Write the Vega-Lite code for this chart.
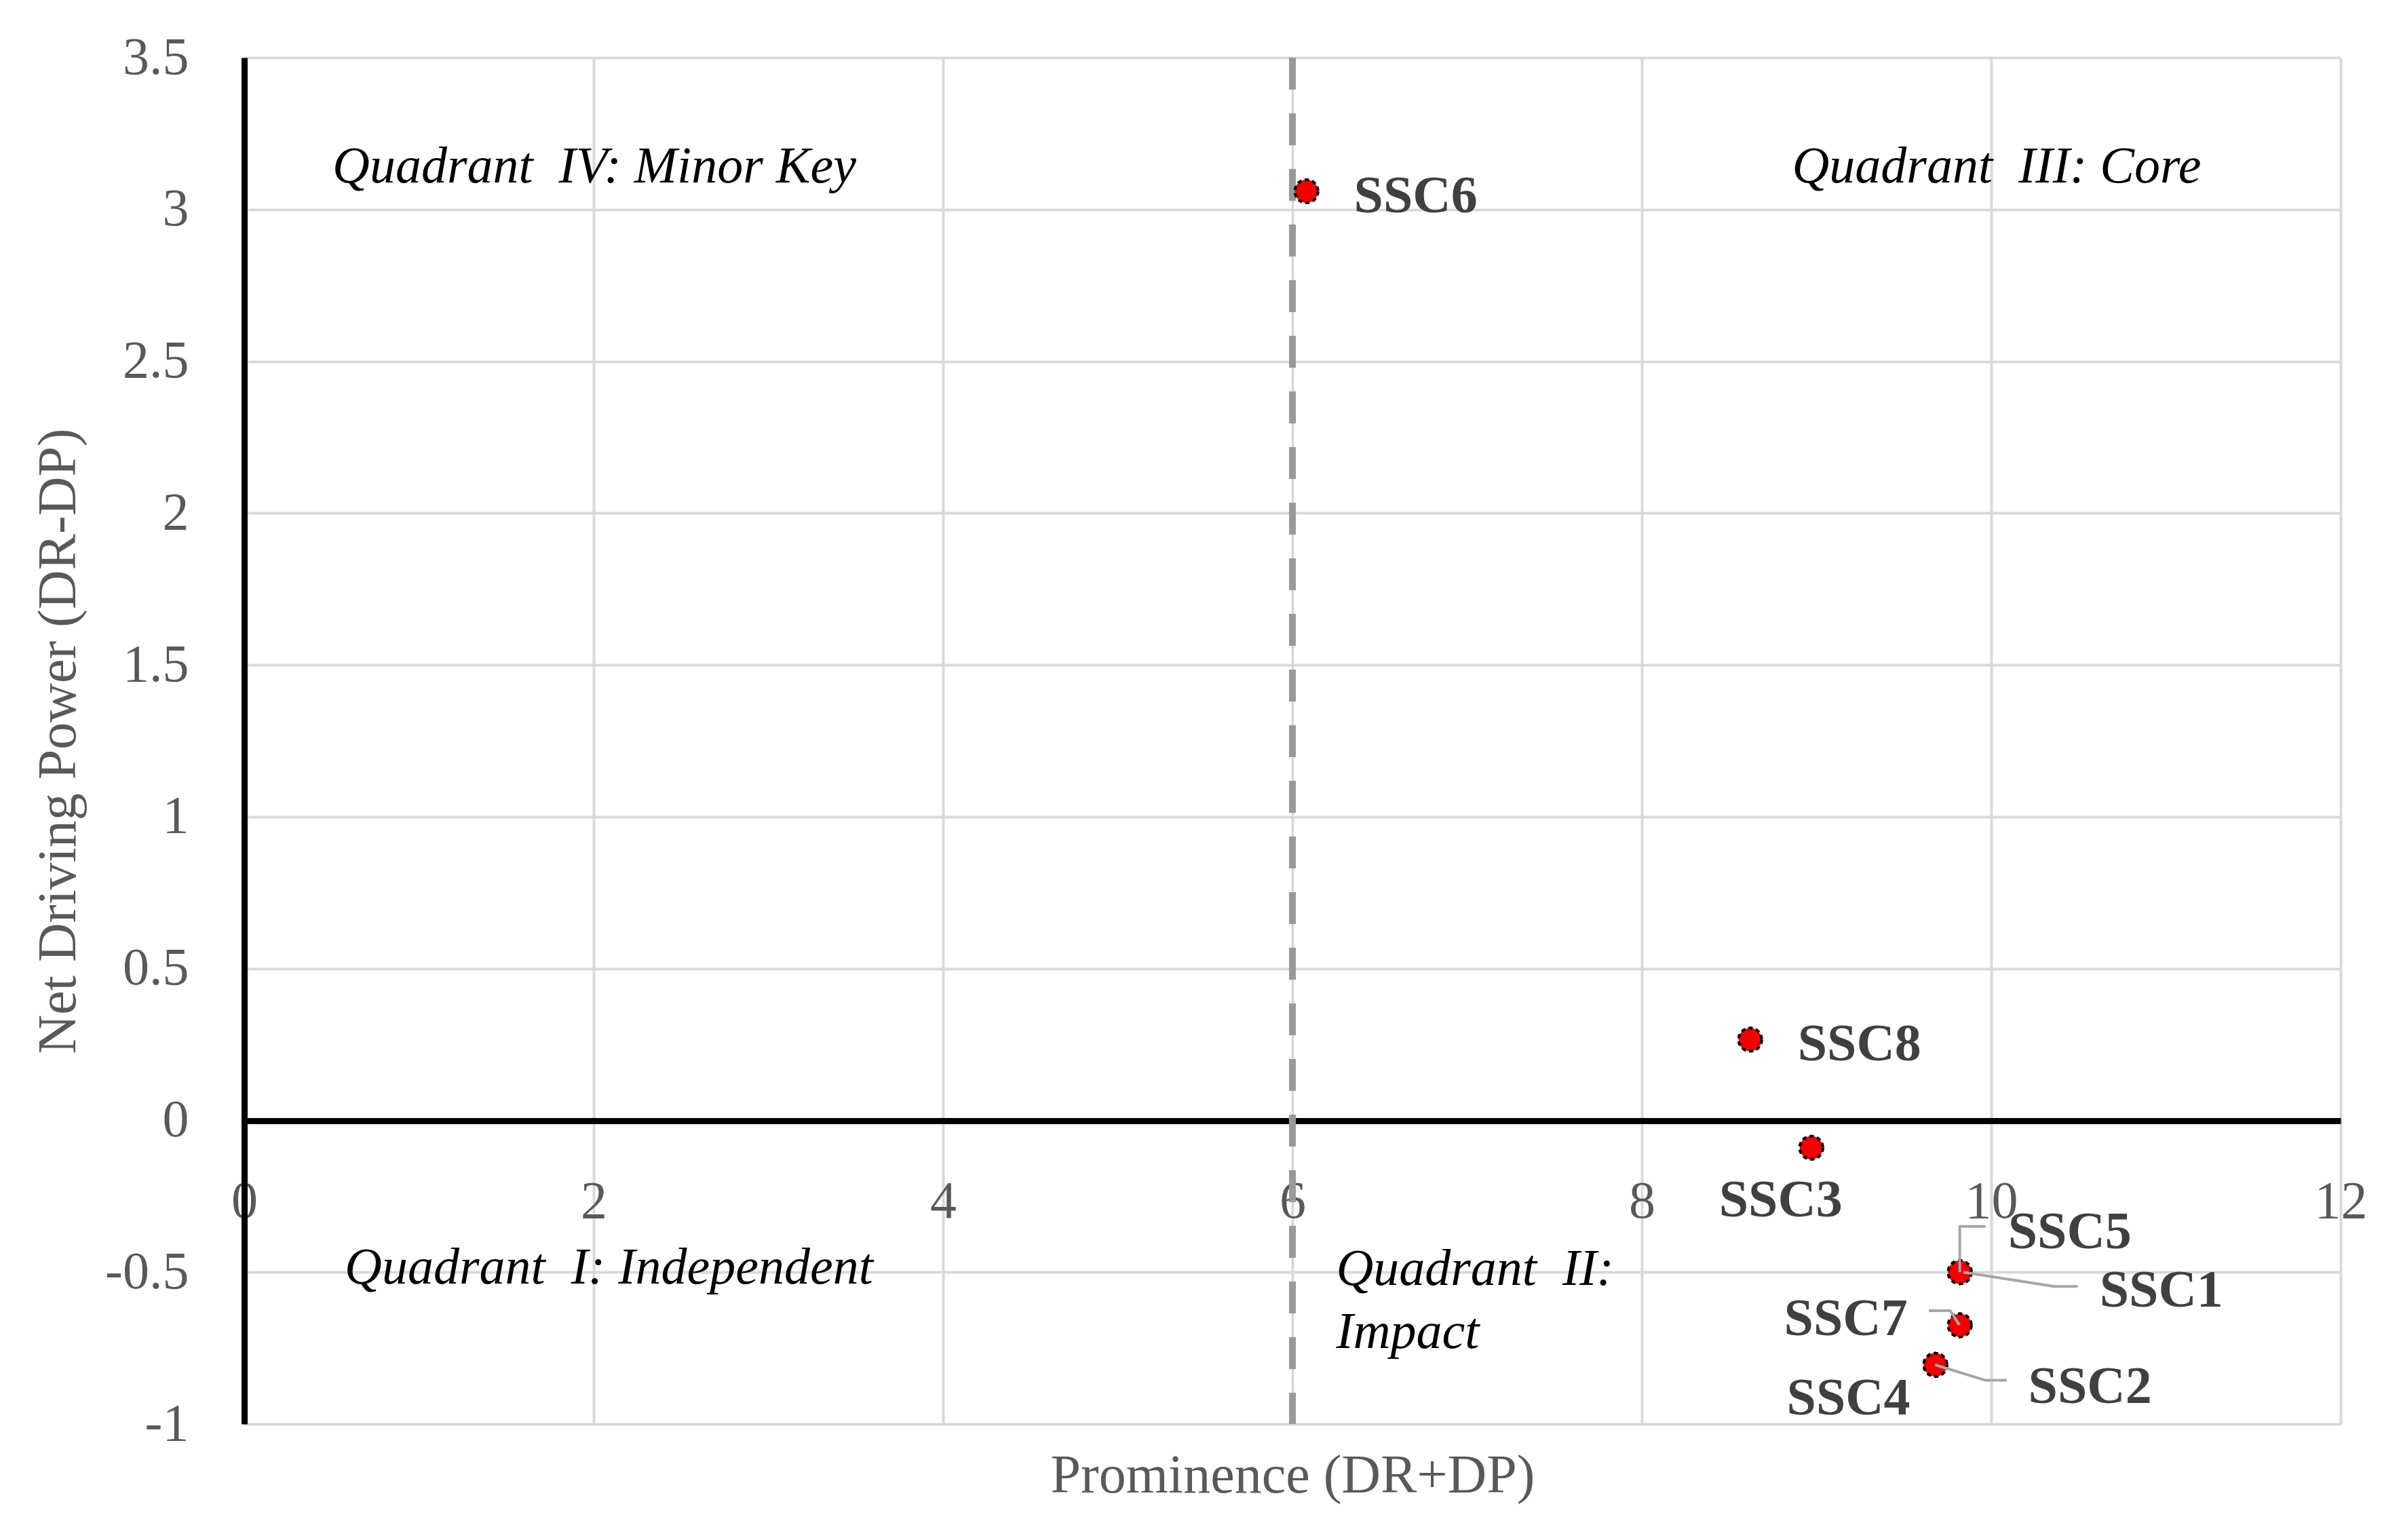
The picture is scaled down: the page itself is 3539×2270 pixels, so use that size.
{
  "$schema": "https://vega.github.io/schema/vega-lite/v6.json",
  "width": 3090,
  "height": 2014,
  "autosize": {"type": "none"},
  "padding": {"left": 360, "top": 85, "right": 89, "bottom": 171},
  "background": "white",
  "config": {"view": {"stroke": null}, "font": "Liberation Serif"},
  "datasets": {
    "points": [
      {"name": "SSC1", "x": 9.82, "y": -0.5},
      {"name": "SSC2", "x": 9.68, "y": -0.805},
      {"name": "SSC3", "x": 8.97, "y": -0.09},
      {"name": "SSC4", "x": 9.68, "y": -0.805},
      {"name": "SSC5", "x": 9.82, "y": -0.5},
      {"name": "SSC6", "x": 6.08, "y": 3.06},
      {"name": "SSC7", "x": 9.82, "y": -0.675},
      {"name": "SSC8", "x": 8.62, "y": 0.266}
    ],
    "leaders": [
      {"name": "SSC5", "seq": 1, "x": 9.82, "y": -0.5},
      {"name": "SSC5", "seq": 2, "x": 9.82, "y": -0.349},
      {"name": "SSC5", "seq": 3, "x": 9.967, "y": -0.349},
      {"name": "SSC1", "seq": 1, "x": 9.84, "y": -0.5},
      {"name": "SSC1", "seq": 2, "x": 10.36, "y": -0.547},
      {"name": "SSC1", "seq": 3, "x": 10.495, "y": -0.547},
      {"name": "SSC7", "seq": 1, "x": 9.818, "y": -0.674},
      {"name": "SSC7", "seq": 2, "x": 9.765, "y": -0.627},
      {"name": "SSC7", "seq": 3, "x": 9.643, "y": -0.627},
      {"name": "SSC2", "seq": 1, "x": 9.678, "y": -0.805},
      {"name": "SSC2", "seq": 2, "x": 9.967, "y": -0.856},
      {"name": "SSC2", "seq": 3, "x": 10.089, "y": -0.856}
    ],
    "quadrants": [
      {"text": "Quadrant\u00a0 IV: Minor Key", "x": 0.505, "y": 3.088},
      {"text": "Quadrant\u00a0 III: Core", "x": 8.86, "y": 3.088},
      {"text": "Quadrant\u00a0 I: Independent", "x": 0.575, "y": -0.538},
      {"text": "Quadrant\u00a0 II:", "x": 6.25, "y": -0.542},
      {"text": "Impact", "x": 6.25, "y": -0.749}
    ],
    "divider": [{"x": 6}]
  },
  "layer": [
    {
      "data": {"name": "points"},
      "mark": {"type": "point", "shape": "circle", "filled": true, "fill": "#f20000", "stroke": "black", "strokeWidth": 4, "strokeDash": [6, 5], "size": 1150, "opacity": 1},
      "encoding": {
        "x": {
          "field": "x", "type": "quantitative",
          "scale": {"domain": [0, 12], "nice": false, "zero": false},
          "axis": {
            "title": "Prominence (DR+DP)",
            "values": [0, 2, 4, 6, 8, 10, 12],
            "offset": -447,
            "ticks": false,
            "domainColor": "black",
            "domainWidth": 9,
            "grid": true,
            "gridColor": "#d9d9d9",
            "gridWidth": 4,
            "labelFont": "Liberation Serif",
            "labelFontSize": 78,
            "labelColor": "#595959",
            "labelPadding": 80,
            "labelFlush": false,
            "labelOverlap": false,
            "labelExpr": "datum.value + ''",
            "titleFont": "Liberation Serif",
            "titleFontSize": 80,
            "titleFontWeight": "normal",
            "titleColor": "#595959",
            "titleY": 523,
            "titleBaseline": "middle"
          }
        },
        "y": {
          "field": "y", "type": "quantitative",
          "scale": {"domain": [-1, 3.5], "nice": false, "zero": false},
          "axis": {
            "title": "Net Driving Power (DR-DP)",
            "values": [-1, -0.5, 0, 0.5, 1, 1.5, 2, 2.5, 3, 3.5],
            "ticks": false,
            "domainColor": "black",
            "domainWidth": 9,
            "grid": true,
            "gridColor": "#d9d9d9",
            "gridWidth": 4,
            "labelFont": "Liberation Serif",
            "labelFontSize": 78,
            "labelColor": "#595959",
            "labelPadding": 82,
            "labelFlush": false,
            "labelOverlap": false,
            "labelExpr": "datum.value + ''",
            "titleFont": "Liberation Serif",
            "titleFontSize": 80,
            "titleFontWeight": "normal",
            "titleColor": "#595959",
            "titleX": -274,
            "titleY": 1007,
            "titleAngle": -90,
            "titleAlign": "center",
            "titleBaseline": "middle"
          }
        }
      }
    },
    {
      "data": {"name": "divider"},
      "mark": {"type": "rule", "color": "#999999", "strokeWidth": 10, "strokeDash": [47, 35]},
      "encoding": {
        "x": {"field": "x", "type": "quantitative", "scale": {"domain": [0, 12], "nice": false, "zero": false}}
      }
    },
    {
      "data": {"name": "points"},
      "mark": {"type": "point", "shape": "circle", "filled": true, "fill": "#f20000", "stroke": "black", "strokeWidth": 4, "strokeDash": [6, 5], "size": 1150, "opacity": 1},
      "encoding": {
        "x": {"field": "x", "type": "quantitative", "scale": {"domain": [0, 12], "nice": false, "zero": false}},
        "y": {"field": "y", "type": "quantitative", "scale": {"domain": [-1, 3.5], "nice": false, "zero": false}}
      }
    },
    {
      "data": {"name": "leaders"},
      "mark": {"type": "line", "color": "#a6a6a6", "strokeWidth": 4},
      "encoding": {
        "x": {"field": "x", "type": "quantitative", "scale": {"domain": [0, 12], "nice": false, "zero": false}},
        "y": {"field": "y", "type": "quantitative", "scale": {"domain": [-1, 3.5], "nice": false, "zero": false}},
        "detail": {"field": "name", "type": "nominal"},
        "order": {"field": "seq", "type": "quantitative"}
      }
    },
    {
      "data": {"name": "points"},
      "transform": [{"filter": {"field": "name", "oneOf": ["SSC6", "SSC8"]}}],
      "mark": {"type": "text", "font": "Liberation Serif", "fontWeight": "bold", "fontSize": 78, "color": "#404040", "align": "left", "baseline": "alphabetic", "dx": 70, "dy": 31},
      "encoding": {
        "x": {"field": "x", "type": "quantitative", "scale": {"domain": [0, 12], "nice": false, "zero": false}},
        "y": {"field": "y", "type": "quantitative", "scale": {"domain": [-1, 3.5], "nice": false, "zero": false}},
        "text": {"field": "name", "type": "nominal"}
      }
    },
    {
      "data": {"name": "points"},
      "transform": [{"filter": {"field": "name", "equal": "SSC3"}}],
      "mark": {"type": "text", "font": "Liberation Serif", "fontWeight": "bold", "fontSize": 78, "color": "#404040", "align": "center", "baseline": "alphabetic", "dx": -45, "dy": 101},
      "encoding": {
        "x": {"field": "x", "type": "quantitative", "scale": {"domain": [0, 12], "nice": false, "zero": false}},
        "y": {"field": "y", "type": "quantitative", "scale": {"domain": [-1, 3.5], "nice": false, "zero": false}},
        "text": {"field": "name", "type": "nominal"}
      }
    },
    {
      "data": {"name": "points"},
      "transform": [{"filter": {"field": "name", "equal": "SSC5"}}],
      "mark": {"type": "text", "font": "Liberation Serif", "fontWeight": "bold", "fontSize": 78, "color": "#404040", "align": "left", "baseline": "alphabetic", "dx": 71, "dy": -35},
      "encoding": {
        "x": {"field": "x", "type": "quantitative", "scale": {"domain": [0, 12], "nice": false, "zero": false}},
        "y": {"field": "y", "type": "quantitative", "scale": {"domain": [-1, 3.5], "nice": false, "zero": false}},
        "text": {"field": "name", "type": "nominal"}
      }
    },
    {
      "data": {"name": "points"},
      "transform": [{"filter": {"field": "name", "equal": "SSC1"}}],
      "mark": {"type": "text", "font": "Liberation Serif", "fontWeight": "bold", "fontSize": 78, "color": "#404040", "align": "left", "baseline": "alphabetic", "dx": 206, "dy": 51},
      "encoding": {
        "x": {"field": "x", "type": "quantitative", "scale": {"domain": [0, 12], "nice": false, "zero": false}},
        "y": {"field": "y", "type": "quantitative", "scale": {"domain": [-1, 3.5], "nice": false, "zero": false}},
        "text": {"field": "name", "type": "nominal"}
      }
    },
    {
      "data": {"name": "points"},
      "transform": [{"filter": {"field": "name", "equal": "SSC7"}}],
      "mark": {"type": "text", "font": "Liberation Serif", "fontWeight": "bold", "fontSize": 78, "color": "#404040", "align": "right", "baseline": "alphabetic", "dx": -77, "dy": 14},
      "encoding": {
        "x": {"field": "x", "type": "quantitative", "scale": {"domain": [0, 12], "nice": false, "zero": false}},
        "y": {"field": "y", "type": "quantitative", "scale": {"domain": [-1, 3.5], "nice": false, "zero": false}},
        "text": {"field": "name", "type": "nominal"}
      }
    },
    {
      "data": {"name": "points"},
      "transform": [{"filter": {"field": "name", "equal": "SSC2"}}],
      "mark": {"type": "text", "font": "Liberation Serif", "fontWeight": "bold", "fontSize": 78, "color": "#404040", "align": "left", "baseline": "alphabetic", "dx": 137, "dy": 56},
      "encoding": {
        "x": {"field": "x", "type": "quantitative", "scale": {"domain": [0, 12], "nice": false, "zero": false}},
        "y": {"field": "y", "type": "quantitative", "scale": {"domain": [-1, 3.5], "nice": false, "zero": false}},
        "text": {"field": "name", "type": "nominal"}
      }
    },
    {
      "data": {"name": "points"},
      "transform": [{"filter": {"field": "name", "equal": "SSC4"}}],
      "mark": {"type": "text", "font": "Liberation Serif", "fontWeight": "bold", "fontSize": 78, "color": "#404040", "align": "right", "baseline": "alphabetic", "dx": -37, "dy": 73},
      "encoding": {
        "x": {"field": "x", "type": "quantitative", "scale": {"domain": [0, 12], "nice": false, "zero": false}},
        "y": {"field": "y", "type": "quantitative", "scale": {"domain": [-1, 3.5], "nice": false, "zero": false}},
        "text": {"field": "name", "type": "nominal"}
      }
    },
    {
      "data": {"name": "quadrants"},
      "mark": {"type": "text", "font": "Liberation Serif", "fontStyle": "italic", "fontSize": 76, "color": "black", "align": "left", "baseline": "alphabetic"},
      "encoding": {
        "x": {"field": "x", "type": "quantitative", "scale": {"domain": [0, 12], "nice": false, "zero": false}},
        "y": {"field": "y", "type": "quantitative", "scale": {"domain": [-1, 3.5], "nice": false, "zero": false}},
        "text": {"field": "text", "type": "nominal"}
      }
    }
  ]
}
